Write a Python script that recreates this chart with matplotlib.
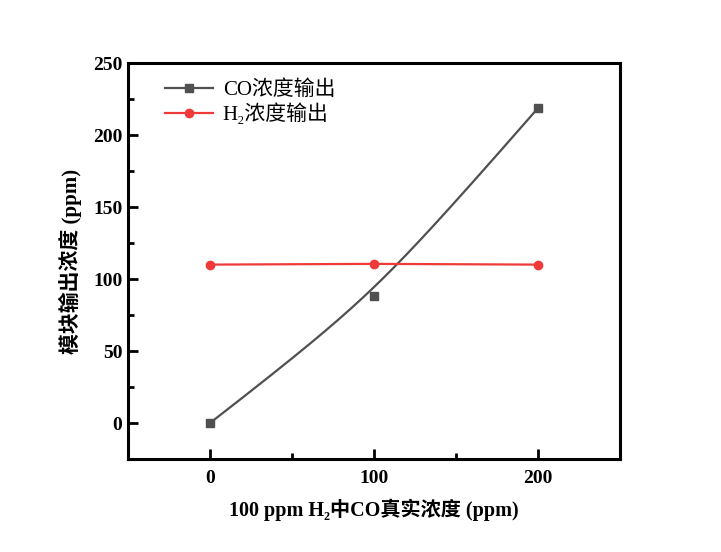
import numpy as np
import matplotlib
matplotlib.use("Agg")
import matplotlib.pyplot as plt
from matplotlib.ticker import MultipleLocator

# données
x_co = [0, 100, 200]
y_co = [0, 88.4, 218.7]
x_h2 = [0, 100, 200]
y_h2 = [110, 110.5, 110]

fam = ['Liberation Serif', 'Noto Sans CJK SC', 'DejaVu Serif']
co_col = '#505050'
h2_col = '#ef3a3a'

# courbe lissée (B-spline type Origin, Bézier rationnelle sur les points)
w = 2.5
t = np.linspace(0, 1, 300)
b0, b1, b2 = (1 - t)**2, 2 * t * (1 - t) * w, t**2
den = b0 + b1 + b2
bx = (b0 * x_co[0] + b1 * x_co[1] + b2 * x_co[2]) / den
by = (b0 * y_co[0] + b1 * y_co[1] + b2 * y_co[2]) / den

fig = plt.figure(figsize=(7.21, 5.52), dpi=100)
ax = fig.add_axes([128/721, 1 - 459/552, (620-128)/721, (459-63)/552])

ax.plot(bx, by, color=co_col, lw=1.6)
ax.plot(x_co, y_co, 's', color=co_col, ms=6)
ax.plot(x_h2, y_h2, '-', color=h2_col, lw=1.6)
ax.plot(x_h2, y_h2, 'o', color=h2_col, ms=6)

# poignées de légende
ax.plot([], [], '-s', color=co_col, lw=1.6, ms=6, label='CO浓度输出')
ax.plot([], [], '-o', color=h2_col, lw=1.6, ms=6, label='H₂浓度输出')

ax.set_xlim(-50, 250)
ax.set_ylim(-25, 250)
ax.xaxis.set_major_locator(MultipleLocator(100))
ax.xaxis.set_minor_locator(MultipleLocator(50))
ax.yaxis.set_major_locator(MultipleLocator(50))
ax.yaxis.set_minor_locator(MultipleLocator(25))
ax.tick_params(which='both', direction='in', width=2, top=False, right=False)
ax.tick_params(which='major', length=7)
ax.tick_params(which='minor', length=4)
for s in ax.spines.values():
    s.set_linewidth(2.2)

for lab in ax.get_xticklabels() + ax.get_yticklabels():
    lab.set_family('Liberation Serif')
    lab.set_fontweight('bold')
    lab.set_fontsize(14)
ax.tick_params(axis='x', pad=8)
ax.tick_params(axis='y', pad=4)

ax.set_xlabel('100 ppm H₂中CO真实浓度 (ppm)', family=fam, fontweight='bold',
              fontsize=14.5, labelpad=8)
ax.set_ylabel('模块输出浓度 (ppm)', family=fam, fontweight='bold',
              fontsize=15, labelpad=8)

h, l = ax.get_legend_handles_labels()
leg = ax.legend(h, l, loc='upper left', bbox_to_anchor=(0.038, 1.003), frameon=False,
                prop={'family': fam, 'size': 15}, handlelength=2.3,
                handletextpad=0.45, labelspacing=0.15)

fig.savefig('out.png', dpi=100)
